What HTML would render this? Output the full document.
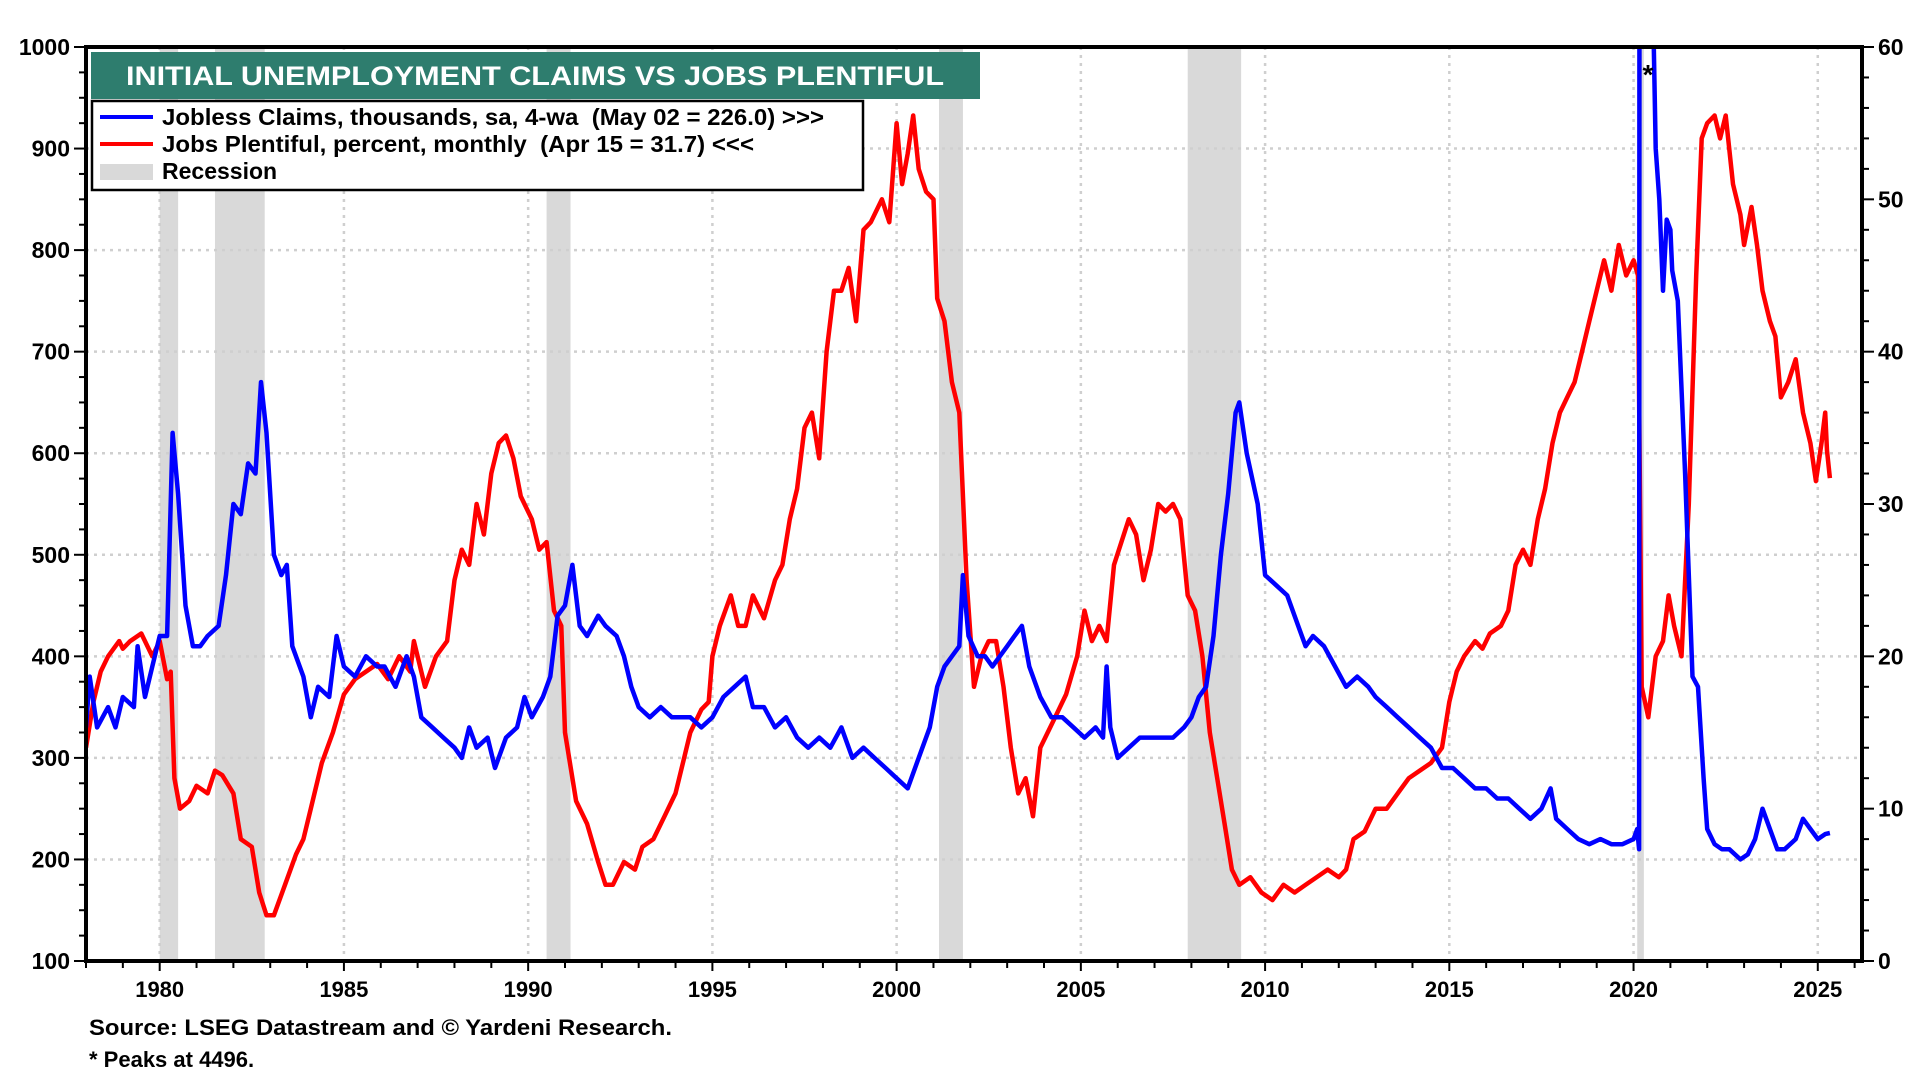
<!DOCTYPE html>
<html><head><meta charset="utf-8"><style>
html,body{margin:0;padding:0;background:#fff}
svg{display:block;font-family:"Liberation Sans",Arial,sans-serif;font-weight:bold}
</style></head><body>
<svg id="chart" width="1920" height="1080" viewBox="0 0 1920 1080" xmlns="http://www.w3.org/2000/svg">
<defs><clipPath id="plotclip"><rect x="86" y="47" width="1776" height="914"/></clipPath></defs>
<g id="recessions"></g>
<g id="grid"></g>
<g id="series" clip-path="url(#plotclip)"></g>
<g id="axes"></g>
<text x="1648" y="84" font-size="28" text-anchor="middle">*</text>
<g>
<rect x="91" y="52" width="889" height="47" fill="#2e7d6e"/>
<text x="535" y="85" font-size="27" fill="#fff" text-anchor="middle" textLength="818" lengthAdjust="spacingAndGlyphs">INITIAL UNEMPLOYMENT CLAIMS VS JOBS PLENTIFUL</text>
</g>
<g>
<rect x="92" y="101" width="771" height="89" fill="#fff" stroke="#000" stroke-width="2.5"/>
<g><line x1="100" y1="117" x2="153" y2="117" stroke="#0000ff" stroke-width="4"/><text x="162" y="125" font-size="23" textLength="662" lengthAdjust="spacingAndGlyphs" xml:space="preserve">Jobless Claims, thousands, sa, 4-wa  (May 02 = 226.0) &gt;&gt;&gt;</text></g>
<g><line x1="100" y1="144" x2="153" y2="144" stroke="#ff0000" stroke-width="4"/><text x="162" y="152" font-size="23" textLength="592" lengthAdjust="spacingAndGlyphs" xml:space="preserve">Jobs Plentiful, percent, monthly  (Apr 15 = 31.7) &lt;&lt;&lt;</text></g>
<g><rect x="100" y="164" width="53" height="16" fill="#d9d9d9"/><text x="162" y="179" font-size="23">Recession</text></g>
</g>
<text x="89" y="1035" font-size="22" textLength="583" lengthAdjust="spacingAndGlyphs">Source: LSEG Datastream and © Yardeni Research.</text>
<text x="89" y="1067" font-size="22">* Peaks at 4496.</text>
</svg>
<script>
const xTicks = [1980,1985,1990,1995,2000,2005,2010,2015,2020,2025];
const leftTicks = [100,200,300,400,500,600,700,800,900,1000];
const rightTicks = [0,10,20,30,40,50,60];
const recStart = [1980.0,1981.5,1990.5,2001.15,2007.9,2020.1];
const recEnd   = [1980.5,1982.85,1991.15,2001.8,2009.35,2020.28];
const claimsDates = [1978.0,1978.1,1978.3,1978.6,1978.8,1979.0,1979.3,1979.4,1979.6,1979.8,1980.0,1980.2,1980.35,1980.5,1980.7,1980.9,1981.1,1981.3,1981.6,1981.8,1982.0,1982.2,1982.4,1982.6,1982.75,1982.9,1983.1,1983.3,1983.45,1983.6,1983.9,1984.1,1984.3,1984.6,1984.8,1985.0,1985.3,1985.6,1985.9,1986.1,1986.4,1986.7,1986.9,1987.1,1987.4,1987.7,1988.0,1988.2,1988.4,1988.6,1988.9,1989.1,1989.4,1989.7,1989.9,1990.1,1990.4,1990.6,1990.8,1991.0,1991.2,1991.4,1991.6,1991.9,1992.1,1992.4,1992.6,1992.8,1993.0,1993.3,1993.6,1993.9,1994.1,1994.4,1994.7,1995.0,1995.3,1995.6,1995.9,1996.1,1996.4,1996.7,1997.0,1997.3,1997.6,1997.9,1998.2,1998.5,1998.8,1999.1,1999.4,1999.7,2000.0,2000.3,2000.6,2000.9,2001.1,2001.3,2001.5,2001.7,2001.8,2001.95,2002.2,2002.4,2002.6,2002.8,2003.0,2003.2,2003.4,2003.6,2003.9,2004.2,2004.5,2004.8,2005.1,2005.4,2005.6,2005.7,2005.8,2006.0,2006.3,2006.6,2006.9,2007.2,2007.5,2007.8,2008.0,2008.2,2008.4,2008.6,2008.8,2009.0,2009.2,2009.3,2009.5,2009.8,2010.0,2010.3,2010.6,2010.9,2011.1,2011.3,2011.6,2011.9,2012.2,2012.5,2012.8,2013.0,2013.3,2013.6,2013.9,2014.2,2014.5,2014.8,2015.1,2015.4,2015.7,2016.0,2016.3,2016.6,2016.9,2017.2,2017.5,2017.75,2017.9,2018.2,2018.5,2018.8,2019.1,2019.4,2019.7,2020.0,2020.1,2020.15,2020.2,2020.3,2020.45,2020.55,2020.6,2020.7,2020.8,2020.9,2021.0,2021.05,2021.2,2021.4,2021.6,2021.75,2021.9,2022.0,2022.2,2022.4,2022.6,2022.9,2023.1,2023.3,2023.5,2023.7,2023.9,2024.1,2024.4,2024.6,2024.8,2025.0,2025.2,2025.33];
const claimsValues = [330,380,330,350,330,360,350,410,360,390,420,420,620,560,450,410,410,420,430,480,550,540,590,580,670,620,500,480,490,410,380,340,370,360,420,390,380,400,390,390,370,400,380,340,330,320,310,300,330,310,320,290,320,330,360,340,360,380,440,450,490,430,420,440,430,420,400,370,350,340,350,340,340,340,330,340,360,370,380,350,350,330,340,320,310,320,310,330,300,310,300,290,280,270,300,330,370,390,400,410,480,420,400,400,390,400,410,420,430,390,360,340,340,330,320,330,320,390,330,300,310,320,320,320,320,330,340,360,370,420,500,560,640,650,600,550,480,470,460,430,410,420,410,390,370,380,370,360,350,340,330,320,310,290,290,280,270,270,260,260,250,240,250,270,240,230,220,215,220,215,215,220,230,210,4496,4000,2000,1000,900,850,760,830,820,780,750,580,380,370,280,230,215,210,210,200,205,220,250,230,210,210,220,240,230,220,225,226];
const jobsDates = [1978.0,1978.2,1978.4,1978.6,1978.9,1979.0,1979.2,1979.5,1979.8,1980.0,1980.2,1980.3,1980.4,1980.55,1980.8,1981.0,1981.3,1981.5,1981.7,1982.0,1982.2,1982.5,1982.7,1982.9,1983.1,1983.4,1983.7,1983.9,1984.1,1984.4,1984.7,1985.0,1985.3,1985.6,1985.9,1986.2,1986.5,1986.8,1986.9,1987.2,1987.5,1987.8,1988.0,1988.2,1988.4,1988.6,1988.8,1989.0,1989.2,1989.4,1989.6,1989.8,1990.1,1990.3,1990.5,1990.7,1990.9,1991.0,1991.3,1991.6,1991.9,1992.1,1992.3,1992.6,1992.9,1993.1,1993.4,1993.7,1994.0,1994.2,1994.4,1994.7,1994.9,1995.0,1995.2,1995.5,1995.7,1995.9,1996.1,1996.4,1996.7,1996.9,1997.1,1997.3,1997.5,1997.7,1997.9,1998.1,1998.3,1998.5,1998.7,1998.9,1999.1,1999.3,1999.6,1999.8,2000.0,2000.15,2000.3,2000.45,2000.6,2000.8,2001.0,2001.1,2001.3,2001.5,2001.7,2001.9,2002.1,2002.3,2002.5,2002.7,2002.9,2003.1,2003.3,2003.5,2003.7,2003.9,2004.1,2004.3,2004.6,2004.9,2005.1,2005.3,2005.5,2005.7,2005.9,2006.1,2006.3,2006.5,2006.7,2006.9,2007.1,2007.3,2007.5,2007.7,2007.9,2008.1,2008.3,2008.5,2008.7,2008.9,2009.1,2009.3,2009.6,2009.9,2010.2,2010.5,2010.8,2011.1,2011.4,2011.7,2012.0,2012.2,2012.4,2012.7,2013.0,2013.3,2013.6,2013.9,2014.2,2014.5,2014.8,2015.0,2015.2,2015.4,2015.7,2015.9,2016.1,2016.4,2016.6,2016.8,2017.0,2017.2,2017.4,2017.6,2017.8,2018.0,2018.2,2018.4,2018.6,2018.8,2019.0,2019.2,2019.4,2019.6,2019.8,2020.0,2020.12,2020.22,2020.4,2020.6,2020.8,2020.95,2021.1,2021.3,2021.5,2021.7,2021.85,2022.0,2022.2,2022.35,2022.5,2022.7,2022.9,2023.0,2023.2,2023.35,2023.5,2023.7,2023.85,2024.0,2024.2,2024.4,2024.6,2024.8,2024.95,2025.1,2025.2,2025.25,2025.33];
const jobsValues = [14,17,19,20,21,20.5,21,21.5,20,21,18.5,19,12,10,10.5,11.5,11,12.5,12.2,11,8,7.5,4.5,3,3,5,7,8,10,13,15,17.5,18.5,19,19.5,18.5,20,19,21,18,20,21,25,27,26,30,28,32,34,34.5,33,30.5,29,27,27.5,23,22,15,10.5,9,6.5,5,5,6.5,6,7.5,8,9.5,11,13,15,16.5,17,20,22,24,22,22,24,22.5,25,26,29,31,35,36,33,40,44,44,45.5,42,48,48.5,50,48.5,55,51,53,55.5,52,50.5,50,43.5,42,38,36,25,18,20,21,21,18,14,11,12,9.5,14,15,16,17.5,20,23,21,22,21,26,27.5,29,28,25,27,30,29.5,30,29,24,23,20,15,12,9,6,5,5.5,4.5,4,5,4.5,5,5.5,6,5.5,6,8,8.5,10,10,11,12,12.5,13,14,17,19,20,21,20.5,21.5,22,23,26,27,26,29,31,34,36,37,38,40,42,44,46,44,47,45,46,45,18,16,20,21,24,22,20,30,45,54,55,55.5,54,55.5,51,49,47,49.5,47,44,42,41,37,38,39.5,36,34,31.5,34,36,33.5,31.7];

const NS='http://www.w3.org/2000/svg';
const X0=86, X1=1862, Y0=47, Y1=961;
function xs(yr){return X0+(yr-1978.0)/(2026.2-1978.0)*(X1-X0);}
function yl(v){return Y1-(v-100)/900*(Y1-Y0);}
function yr(v){return Y1-v/60*(Y1-Y0);}
function mk(tag,attrs,parent){const e=document.createElementNS(NS,tag);for(const k in attrs)e.setAttribute(k,attrs[k]);parent.appendChild(e);return e;}

const rec=document.getElementById('recessions');
for(let i=0;i<recStart.length;i++){
  const r=mk('rect',{x:xs(recStart[i]),y:Y0,width:Math.max(3,xs(recEnd[i])-xs(recStart[i])),height:Y1-Y0,fill:'#d9d9d9'},rec);
  
  
}
const grid=document.getElementById('grid');
leftTicks.forEach(v=>{if(v>100&&v<1000){mk('line',{x1:X0,x2:X1,y1:yl(v),y2:yl(v),stroke:'#cfcfcf','stroke-width':2.5,'stroke-dasharray':'3 5'},grid);}});
xTicks.forEach(v=>{mk('line',{x1:xs(v),x2:xs(v),y1:Y0,y2:Y1,stroke:'#cfcfcf','stroke-width':2.5,'stroke-dasharray':'3 5'},grid);});

const ser=document.getElementById('series');
function path(d,v,fy,color,name){
  let s='';for(let i=0;i<d.length;i++){s+=(i?'L':'M')+xs(d[i]).toFixed(1)+','+fy(v[i]).toFixed(1);}
  const p=mk('path',{d:s,fill:'none',stroke:color,'stroke-width':4.5,'stroke-linejoin':'round'},ser);
  
  
}
path(jobsDates,jobsValues,yr,'#ff0000','jobs-plentiful-line');
path(claimsDates,claimsValues,yl,'#0000ff','jobless-claims-line');

const ax=document.getElementById('axes');
mk('rect',{x:X0,y:Y0,width:X1-X0,height:Y1-Y0,fill:'none',stroke:'#000','stroke-width':4},ax);
for(let v=100;v<=1000;v+=25){const big=v%100===0;mk('line',{x1:X0-(big?12:7),x2:X0,y1:yl(v),y2:yl(v),stroke:'#000','stroke-width':2},ax);}
leftTicks.forEach(v=>{const t=mk('text',{x:70,y:yl(v)+8,'font-size':23,'text-anchor':'end'},ax);t.textContent=v;
  });
for(let v=0;v<=60;v+=2){const big=v%10===0;mk('line',{x1:X1,x2:X1+(big?12:7),y1:yr(v),y2:yr(v),stroke:'#000','stroke-width':2},ax);}
rightTicks.forEach(v=>{const t=mk('text',{x:1878,y:yr(v)+8,'font-size':23},ax);t.textContent=v;
  });
for(let y=1978;y<=2026;y++){mk('line',{x1:xs(y),x2:xs(y),y1:Y1,y2:Y1+(y%5===0?10:7),stroke:'#000','stroke-width':2},ax);}
xTicks.forEach(v=>{const t=mk('text',{x:xs(v),y:997,'font-size':22,'text-anchor':'middle'},ax);t.textContent=v;
  });
</script>
</body></html>
